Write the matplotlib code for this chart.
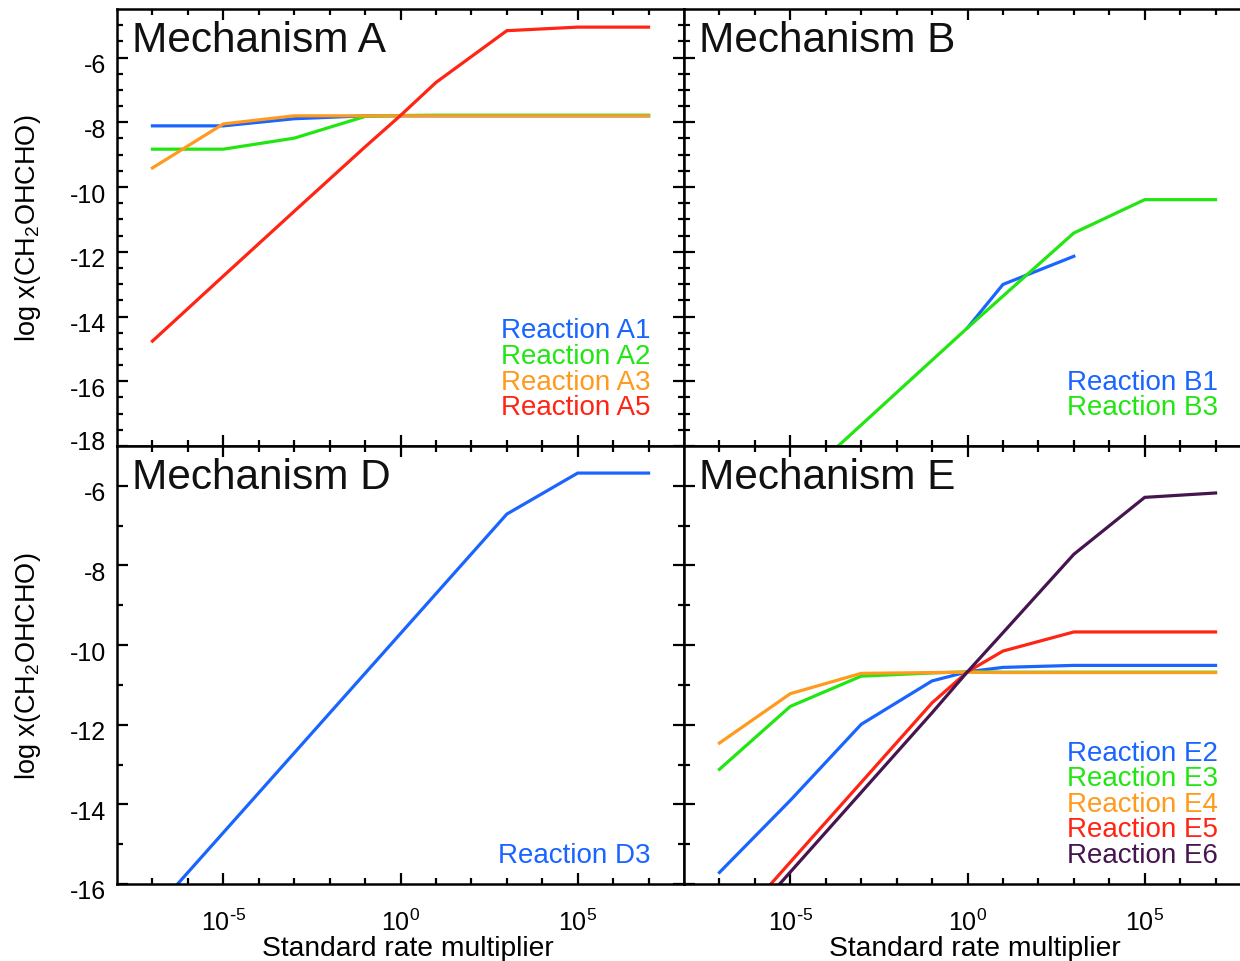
import numpy as np
import matplotlib
matplotlib.use("Agg")
import matplotlib.pyplot as plt
import matplotlib.transforms as mtrans
from matplotlib.ticker import FixedLocator, NullFormatter

plt.rcParams['font.family'] = ['Liberation Sans', 'DejaVu Sans']
plt.rcParams['mathtext.default'] = 'regular'
plt.rcParams['axes.unicode_minus'] = False

# rate multipliers used in the runs
mult = [1e-7, 1e-5, 1e-3, 1e-1, 1e0, 1e1, 1e3, 1e5, 1e7]

# Mechanism A
a1 = [-8.11, -8.11, -7.89, -7.80, -7.80, -7.80, -7.80, -7.80, -7.80]
a2 = [-8.83, -8.83, -8.49, -7.82, -7.79, -7.78, -7.78, -7.78, -7.78]
a3 = [-9.41, -8.05, -7.80, -7.80, -7.80, -7.80, -7.80, -7.80, -7.80]
a5 = [-14.76, -12.75, -10.75, -8.76, -7.79, -6.77, -5.17, -5.06, -5.06]

# Mechanism B (B1 only converged for a few runs)
mult_b1 = [1e0, 1e1, 1e3]
b1 = [-14.35, -13.01, -12.14]
b3 = [-21.35, -19.35, -17.35, -15.35, -14.35, -13.37, -11.42, -10.39, -10.39]

# Mechanism D
d3 = [-16.71, -14.71, -12.71, -10.71, -9.71, -8.71, -6.71, -5.68, -5.68]

# Mechanism E
e2 = [-15.71, -13.90, -11.99, -10.90, -10.67, -10.56, -10.51, -10.51, -10.51]
e3 = [-13.12, -11.54, -10.78, -10.70, -10.67, -10.68, -10.68, -10.68, -10.68]
e4 = [-12.46, -11.22, -10.71, -10.69, -10.68, -10.69, -10.69, -10.69, -10.69]
e5 = [-17.45, -15.45, -13.45, -11.45, -10.67, -10.15, -9.67, -9.67, -9.67]
e6 = [-17.70, -15.70, -13.70, -11.70, -10.67, -9.69, -7.72, -6.29, -6.18]

xtick_labels = ['$10^{\\text{-}5}$', '$10^{0}$', '$10^{5}$']

blue = '#1a64ff'
green = '#22e612'
orange = '#ff9a1e'
red = '#ff2414'
purple = '#46154f'

W, H = 1240, 962
fig = plt.figure(figsize=(W / 100, H / 100), dpi=100)

def box(x0, y0, x1, y1):
    # pixel box -> figure fraction
    return [x0 / W, 1 - y1 / H, (x1 - x0) / W, (y1 - y0) / H]

axA = fig.add_axes(box(117, 10, 684, 447))
axB = fig.add_axes(box(684, 10, 1251, 447))
axD = fig.add_axes(box(117, 447, 684, 885))
axE = fig.add_axes(box(684, 447, 1251, 885))

panels = [
    (axA, 'Mechanism A', [(mult, a1, blue, 'Reaction A1'), (mult, a2, green, 'Reaction A2'),
                          (mult, a3, orange, 'Reaction A3'), (mult, a5, red, 'Reaction A5')]),
    (axB, 'Mechanism B', [(mult_b1, b1, blue, 'Reaction B1'), (mult, b3, green, 'Reaction B3')]),
    (axD, 'Mechanism D', [(mult, d3, blue, 'Reaction D3')]),
    (axE, 'Mechanism E', [(mult, e2, blue, 'Reaction E2'), (mult, e3, green, 'Reaction E3'),
                          (mult, e4, orange, 'Reaction E4'), (mult, e5, red, 'Reaction E5'),
                          (mult, e6, purple, 'Reaction E6')]),
]

for ax, title, series in panels:
    top = ax in (axA, axB)
    for xs, ys, col, lab in series:
        ax.plot(xs, ys, color=col, lw=2.3, solid_joinstyle='miter')
    ax.set_xscale('log')
    ax.set_xlim(1e-8, 1e8)
    if top:
        ax.set_ylim(-18, -4.5)
        ax.yaxis.set_major_locator(FixedLocator(np.arange(-18, -5, 2)))
        ax.yaxis.set_minor_locator(FixedLocator(np.arange(-18, -4.5, 0.5)))
    else:
        ax.set_ylim(-16, -5)
        ax.yaxis.set_major_locator(FixedLocator(np.arange(-16, -5, 2)))
        ax.yaxis.set_minor_locator(FixedLocator(np.arange(-16, -5, 1)))
    ax.xaxis.set_major_locator(FixedLocator([1e-5, 1e0, 1e5]))
    ax.xaxis.set_minor_locator(FixedLocator([10.0 ** k for k in range(-7, 8)]))
    ax.xaxis.set_minor_formatter(NullFormatter())
    ax.tick_params(which='both', direction='in', top=True, right=True, width=1.6,
                   labelsize=18, colors='black')
    ax.tick_params(which='major', length=8)
    ax.tick_params(which='minor', length=4)
    ax.tick_params(axis='x', pad=18)
    ax.tick_params(axis='y', pad=8)
    for s in ax.spines.values():
        s.set_linewidth(1.8)

    if top:
        ax.set_xticklabels([])
    else:
        ax.set_xticklabels(xtick_labels)
    if ax in (axB, axE):
        ax.set_yticklabels([])
    else:
        ticks = ax.get_yticks()
        ax.set_yticklabels(['%d' % v for v in ticks])
        for v, lbl in zip(ticks, ax.get_yticklabels()):
            dy = 7 if (top and v == -18) else -5
            lbl.set_transform(lbl.get_transform() +
                              mtrans.ScaledTranslation(0, dy / 100, fig.dpi_scale_trans))

    ax.text(0.026, 1 - 41.5 / 437, title, transform=ax.transAxes, fontsize=30.5,
            va='baseline', ha='left', color='#111111')

    # coloured labels stacked from the bottom right
    base = 39 if top else 29
    n = len(series)
    for i, (xs, ys, col, lab) in enumerate(series):
        ypix = base + (n - 1 - i) * 25.5
        ax.text(0.941, ypix / 437, lab, transform=ax.transAxes, fontsize=20,
                color=col, ha='right', va='center')

for yc in (228.5, 666):
    fig.text(28 / W, 1 - yc / H, 'log x(CH$_2$OHCHO)', rotation=90, fontsize=19.5,
             ha='center', va='center')
for xc in (408, 975):
    fig.text(xc / W, 1 - 949 / H, 'Standard rate multiplier', fontsize=20.3,
             ha='center', va='center')

fig.savefig('out.png', dpi=100, facecolor='white')
